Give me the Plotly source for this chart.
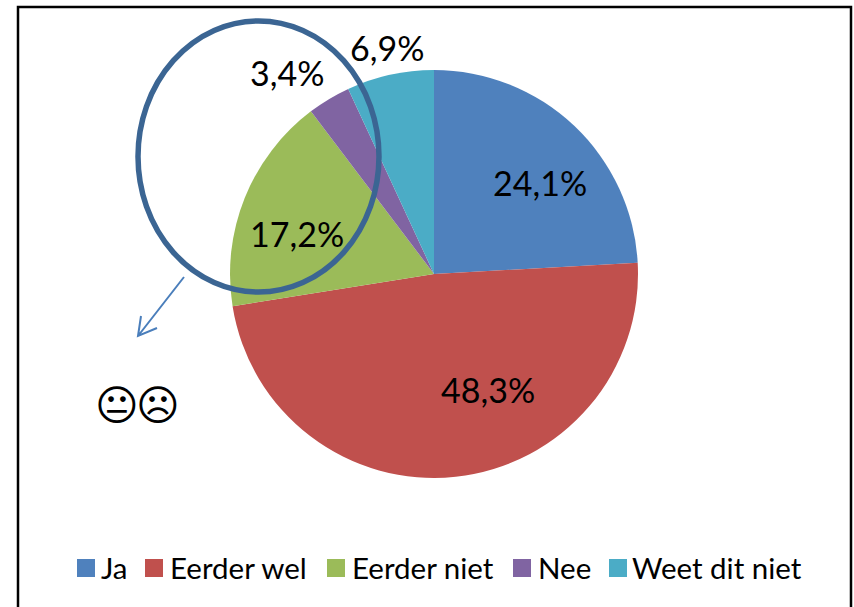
import plotly.graph_objects as go

W, H = 854, 607

categories = ["Ja", "Eerder wel", "Eerder niet", "Nee", "Weet dit niet"]
percentages = [24.1, 48.3, 17.2, 3.4, 6.9]
colors = ["#4F81BD", "#C0504D", "#9BBB59", "#8064A2", "#4BACC6"]
smileys = ["\U0001F610", "\u2639"]
FONT = "Lato"
BLUE = "#3B6593"

# layout constants, in picture pixels
label_centres = [(540, 183), (488, 389), (297, 233), (287, 73), (387, 47)]
swatch_left = [77, 145, 327, 513, 609]
legend_text_left = [100, 169, 351, 537, 631]
smiley_centres = [(117, 405), (158, 405)]


def px(x):
    return x / W


def py(y):
    return 1 - y / H


fig = go.Figure(
    go.Pie(
        labels=categories,
        values=percentages,
        sort=False,
        direction="clockwise",
        rotation=0,
        marker=dict(colors=colors, line=dict(width=0)),
        textinfo="none",
        hoverinfo="label+percent",
        domain=dict(x=[px(230), px(638)], y=[py(478), py(70)]),
        automargin=False,
        showlegend=False,
    )
)

shapes = [
    dict(type="rect", xref="paper", yref="paper", x0=px(18), x1=px(851), y0=py(640), y1=py(7),
         line=dict(color="black", width=2.5)),
    dict(type="circle", xref="paper", yref="paper", x0=px(138), x1=px(379), y0=py(292), y1=py(21),
         line=dict(color=BLUE, width=5.5), layer="above"),
    dict(type="path", xref="paper", yref="paper",
         path=f"M {px(184)} {py(277)} L {px(138)} {py(336)} M {px(141)} {py(316)} L {px(138)} {py(336)} L {px(157)} {py(328)}",
         line=dict(color="#4A7EBB", width=2)),
]
annotations = []

for value, (cx, cy) in zip(percentages, label_centres):
    annotations.append(dict(
        text=f"{value:.1f}%".replace(".", ","), xref="paper", yref="paper",
        x=px(cx), y=py(cy), xanchor="center", yanchor="middle", showarrow=False,
        font=dict(family=FONT, size=34, color="black"),
    ))

for name, color, sx, tx in zip(categories, colors, swatch_left, legend_text_left):
    shapes.append(dict(type="rect", xref="paper", yref="paper",
                       x0=px(sx), x1=px(sx + 18), y0=py(577), y1=py(559),
                       fillcolor=color, line=dict(width=0)))
    annotations.append(dict(
        text=name, xref="paper", yref="paper", x=px(tx), y=py(567),
        xanchor="left", yanchor="middle", showarrow=False, xshift=-1,
        font=dict(family=FONT, size=29.5, color="black"),
    ))

for glyph, (cx, cy) in zip(smileys, smiley_centres):
    annotations.append(dict(
        text=glyph, xref="paper", yref="paper", x=px(cx), y=py(cy),
        xanchor="center", yanchor="middle", showarrow=False,
        font=dict(family="DejaVu Sans", size=42, color="black"),
    ))

fig.update_layout(
    width=W,
    height=H,
    margin=dict(l=0, r=0, t=0, b=0),
    paper_bgcolor="white",
    font=dict(family=FONT, color="black"),
    shapes=shapes,
    annotations=annotations,
)

fig.write_html("out.html", config={"displayModeBar": False},
               post_script="document.body.style.margin='0';")
